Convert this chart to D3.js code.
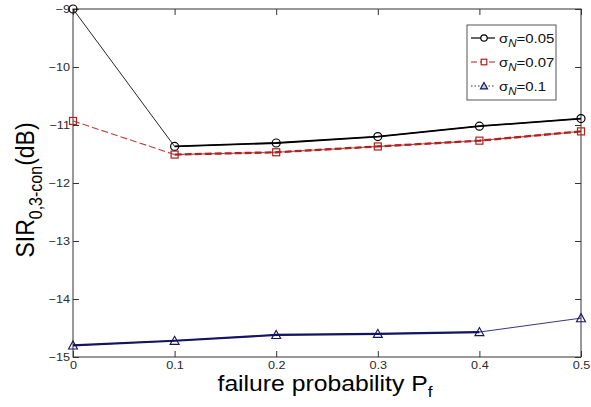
<!DOCTYPE html>
<html>
<head>
<meta charset="utf-8">
<script src="https://cdn.jsdelivr.net/npm/d3@7/dist/d3.min.js"></script>
<style>
  html, body { margin: 0; padding: 0; background: #fff; }
  svg { display: block; font-family: "Liberation Sans", Arial, sans-serif; }
</style>
</head>
<body>
<svg id="chart" width="591" height="407"></svg>
<script>
// Failure probability on the x axis
const pf = [0, 0.1, 0.2, 0.3, 0.4, 0.5];
// SIR (dB) for each noise level sigma_N
const sir005 = [-9.0, -11.37, -11.31, -11.2, -11.02, -10.89];
const sir007 = [-10.93, -11.51, -11.47, -11.37, -11.27, -11.11];
const sir010 = [-14.8, -14.72, -14.62, -14.6, -14.57, -14.33];
const sigmaValues = ["0.05", "0.07", "0.1"];
const xTicks = [0, 0.1, 0.2, 0.3, 0.4, 0.5];
const yTicks = [-15, -14, -13, -12, -11, -10, -9];

const plot = { left: 73, right: 581, top: 9, bottom: 357 };
const STRETCH = 1.15;

const svg = d3.select("#chart");
const x = d3.scaleLinear().domain([0, 0.5]).range([plot.left, plot.right]);
const y = d3.scaleLinear().domain([-15, -9]).range([plot.bottom, plot.top]);

// Plot box
svg.append("rect")
  .attr("x", plot.left).attr("y", plot.top)
  .attr("width", plot.right - plot.left).attr("height", plot.bottom - plot.top)
  .attr("fill", "none").attr("stroke", "#333").attr("stroke-width", 1);

function styleAxis(g) {
  g.select(".domain").remove();
  g.selectAll(".tick line").attr("stroke", "#333");
  g.selectAll(".tick text").each(function () {
    const t = d3.select(this);
    const tx = +t.attr("x") || 0, ty = +t.attr("y") || 0;
    t.attr("x", 0).attr("y", 0)
     .attr("transform", `translate(${tx},${ty}) scale(${STRETCH},1)`);
  });
  g.selectAll(".tick text").attr("fill", "#2a2a2a").attr("font-size", 11)
    .attr("font-family", "Liberation Sans, Arial, sans-serif");
}

// Axes with inward ticks (box style)
const fmtX = d => d === 0 ? "0" : d3.format(".1f")(d);
svg.append("g").attr("transform", `translate(0,${plot.bottom})`)
  .call(d3.axisBottom(x).tickValues(xTicks).tickFormat(fmtX).tickSizeInner(-6).tickSizeOuter(0).tickPadding(4))
  .call(styleAxis);
svg.append("g").attr("transform", `translate(0,${plot.top})`)
  .call(d3.axisTop(x).tickValues(xTicks).tickFormat("").tickSizeInner(-6).tickSizeOuter(0))
  .call(styleAxis);
svg.append("g").attr("transform", `translate(${plot.left},0)`)
  .call(d3.axisLeft(y).tickValues(yTicks).tickFormat(d3.format("d")).tickSizeInner(-6).tickSizeOuter(0).tickPadding(3))
  .call(styleAxis);
svg.append("g").attr("transform", `translate(${plot.right},0)`)
  .call(d3.axisRight(y).tickValues(yTicks).tickFormat("").tickSizeInner(-6).tickSizeOuter(0))
  .call(styleAxis);

// Series styling
const series = [
  { values: sir005, color: "#000", dash: null, marker: "circle", thin: 1, bold: 1.8, boldFrom: 1, boldTo: 5, label: sigmaValues[0] },
  { values: sir007, color: "#b0201e", dash: "7,3", marker: "square", thin: 1.1, bold: 2.3, boldFrom: 1, boldTo: 5, label: sigmaValues[1] },
  { values: sir010, color: "#141464", dash: null, marker: "triangle", thin: 1, bold: 2.2, boldFrom: 0, boldTo: 4, label: sigmaValues[2] }
];

const line = d3.line().x(d => x(d[0])).y(d => y(d[1]));

function drawMarker(g, kind, cx, cy, color, fill, k) {
  k = k || 1;
  if (kind === "circle") {
    g.append("circle").attr("cx", cx).attr("cy", cy).attr("r", 4 * k)
      .attr("fill", fill).attr("stroke", color).attr("stroke-width", 1.2);
  } else if (kind === "square") {
    const h = 3.5 * k;
    g.append("rect").attr("x", cx - h).attr("y", cy - h).attr("width", 2 * h).attr("height", 2 * h)
      .attr("fill", fill).attr("stroke", color).attr("stroke-width", 1.2);
  } else {
    const s = 4.5 * k;
    g.append("path")
      .attr("d", `M${cx},${cy - s} L${cx + s},${cy + s * 0.8} L${cx - s},${cy + s * 0.8} Z`)
      .attr("fill", fill).attr("stroke", color).attr("stroke-width", 1.1);
  }
}

series.forEach(s => {
  const pts = pf.map((p, i) => [p, s.values[i]]);
  const g = svg.append("g");
  g.append("path").attr("d", line(pts)).attr("fill", "none")
    .attr("stroke", s.color).attr("stroke-width", s.thin)
    .attr("stroke-dasharray", s.dash).attr("opacity", 0.85);
  g.append("path").attr("d", line(pts.slice(s.boldFrom, s.boldTo + 1))).attr("fill", "none")
    .attr("stroke", s.color).attr("stroke-width", s.bold)
    .attr("stroke-dasharray", s.dash);
  pts.forEach(p => drawMarker(g, s.marker, x(p[0]), y(p[1]), s.color, "none"));
});

// Legend
const lg = { x: 467, y: 25, w: 89, h: 75 };
svg.append("rect").attr("x", lg.x).attr("y", lg.y).attr("width", lg.w).attr("height", lg.h)
  .attr("fill", "#fff").attr("stroke", "#555").attr("stroke-width", 1);
const legendLine = [
  { color: "#000", dash: null },
  { color: "#b0201e", dash: "6,3" },
  { color: "#333", dash: "1.5,2" }
];
series.forEach((s, i) => {
  const cy = 38 + i * 24;
  svg.append("line").attr("x1", 471).attr("x2", 495).attr("y1", cy).attr("y2", cy)
    .attr("stroke", legendLine[i].color).attr("stroke-width", 1.2)
    .attr("stroke-dasharray", legendLine[i].dash);
  const mg = svg.append("g");
  drawMarker(mg, s.marker, 484, cy, s.color, s.marker === "triangle" ? "#c9c9dc" : "#fff", 0.8);
  const t = svg.append("text")
    .attr("transform", `translate(499,${cy + 5}) scale(${STRETCH},1)`)
    .attr("font-size", 13).attr("fill", "#111");
  t.append("tspan").text("σ");
  t.append("tspan").attr("dy", 4).attr("font-size", 10).attr("font-style", "italic").text("N");
  t.append("tspan").attr("dy", -4).text("=" + s.label);
});

// Axis titles
const xt = svg.append("text")
  .attr("transform", `translate(${(plot.left + plot.right) / 2 - 2},391) scale(${STRETCH},1)`)
  .attr("text-anchor", "middle").attr("font-size", 21.5).attr("fill", "#000");
xt.append("tspan").text("failure probability P");
xt.append("tspan").attr("dy", 6).attr("font-size", 15).text("f");

const yt = svg.append("text")
  .attr("transform", `translate(34,190) rotate(-90) scale(1,${STRETCH})`)
  .attr("text-anchor", "middle").attr("font-size", 23).attr("fill", "#000");
yt.append("tspan").text("SIR");
yt.append("tspan").attr("dy", 7).attr("font-size", 16).text("0,3-con");
yt.append("tspan").attr("dy", -7).text("(dB)");
</script>
</body>
</html>
